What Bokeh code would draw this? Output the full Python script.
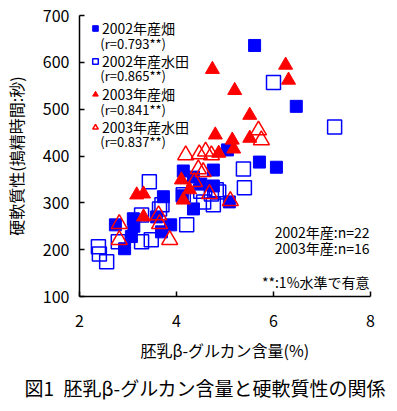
from bokeh.plotting import figure
from bokeh.models import Range1d, FixedTicker, Label, Legend, LegendItem, Title
from bokeh.embed import file_html
from bokeh.resources import INLINE

# 2002 upland (filled squares)
x_2002_upland = [5.61, 6.47, 5.05, 5.71, 6.06, 4.14, 4.76, 4.35, 4.76, 5.09, 4.35,
                 4.12, 3.73, 2.74, 3.11, 3.07, 2.93, 3.59, 3.69, 3.88, 3.12, 4.50]
y_2002_upland = [636, 506, 413, 387, 376, 368, 370, 355, 336, 302, 287,
                 315, 313, 253, 266, 228, 202, 270, 238, 253, 250, 340]
# 2002 paddy (open squares)
x_2002_paddy = [6.00, 7.26, 5.38, 5.40, 4.21, 3.44, 4.72, 4.82, 4.56, 3.65, 3.28,
                2.39, 2.41, 2.56, 2.80, 3.28, 3.48, 4.14, 4.76, 4.87, 3.70, 4.50]
y_2002_paddy = [557, 462, 372, 332, 253, 345, 319, 328, 302, 287, 274,
                206, 191, 174, 217, 217, 221, 317, 296, 323, 296, 325]
# 2003 upland (filled triangles)
x_2003_upland = [4.74, 6.25, 6.31, 5.20, 5.51, 4.80, 5.51, 5.15, 5.18, 4.87,
                 4.10, 4.27, 4.14, 3.18, 3.32, 3.32]
y_2003_upland = [585, 594, 562, 540, 487, 445, 438, 434, 415, 406,
                 349, 328, 306, 317, 319, 270]
# 2003 paddy (open triangles)
x_2003_paddy = [4.19, 4.47, 4.72, 5.69, 5.75, 4.45, 4.55, 4.37, 4.68, 5.11,
                3.63, 3.65, 2.82, 2.82, 3.86, 4.60]
y_2003_paddy = [402, 404, 402, 455, 434, 372, 366, 345, 319, 304,
                274, 255, 255, 221, 221, 410]

legend_names = ["2002年産畑", "2002年産水田", "2003年産畑", "2003年産水田"]
r_texts = ["(r=0.793**)", "(r=0.865**)", "(r=0.841**)", "(r=0.837**)"]
x_ticks = [2, 4, 6, 8]
y_ticks = [100, 200, 300, 400, 500, 600, 700]

FONT = "Noto Sans CJK JP"
BLUE = "#0000FF"
RED = "#FF0000"

p = figure(frame_width=291, frame_height=281, output_backend="svg",
           toolbar_location=None,
           x_range=Range1d(2, 8), y_range=Range1d(100, 700),
           min_border_left=75, min_border_right=21, min_border_top=15,
           min_border_bottom=5)
p.outline_line_color = None
p.xgrid.visible = False
p.ygrid.visible = False
p.background_fill_color = "white"

for ax in (p.xaxis[0], p.yaxis[0]):
    ax.axis_line_width = 1.5
    ax.axis_line_color = "black"
    ax.major_tick_in = 5
    ax.major_tick_out = 0
    ax.major_tick_line_width = 1.5
    ax.minor_tick_line_color = None
    ax.major_label_text_font = FONT
    ax.major_label_text_font_size = "16px"
    ax.major_label_text_color = "black"
    ax.axis_label_text_font = FONT
    ax.axis_label_text_font_size = "16px"
    ax.axis_label_text_font_style = "normal"
    ax.axis_label_text_color = "black"

p.xaxis[0].ticker = FixedTicker(ticks=x_ticks)
p.yaxis[0].ticker = FixedTicker(ticks=y_ticks)
p.xaxis[0].axis_label = "胚乳β-グルカン含量(%)"
p.yaxis[0].axis_label = "硬軟質性(搗精時間:秒)"
p.xaxis[0].major_label_standoff = 18
p.xaxis[0].axis_label_standoff = 8
p.yaxis[0].major_label_standoff = 10
p.yaxis[0].axis_label_standoff = 12

r1 = p.scatter(x_2002_upland, y_2002_upland, marker="square", size=12,
               fill_color=BLUE, line_color=BLUE)
r2 = p.scatter(x_2002_paddy, y_2002_paddy, marker="square", size=14,
               fill_color=None, line_color=BLUE, line_width=1.5)
r3 = p.scatter(x_2003_upland, y_2003_upland, marker="triangle", size=14,
               fill_color=RED, line_color=RED)
r4 = p.scatter(x_2003_paddy, y_2003_paddy, marker="triangle", size=16,
               fill_color=None, line_color=RED, line_width=1.5)

legend = Legend(items=[LegendItem(label=n, renderers=[r]) for n, r in
                       zip(legend_names, [r1, r2, r3, r4])],
                location=(9, 159), orientation="vertical",
                glyph_width=14, glyph_height=14, label_height=14,
                label_standoff=0, spacing=13, padding=0, margin=0,
                border_line_color=None, background_fill_color=None,
                label_text_font=FONT, label_text_font_size="14px",
                label_text_color="black")
p.add_layout(legend)

r_y = [640, 571, 500, 431]
for t, yy in zip(r_texts, r_y):
    p.add_layout(Label(x=2.43, y=yy, text=t, text_font=FONT,
                       text_font_size="13px", text_baseline="middle",
                       text_align="left", text_color="black"))

p.add_layout(Label(x=7.98, y=238, text="2002年産:n=22", text_font=FONT,
                   text_font_size="14px", text_baseline="middle",
                   text_align="right", text_color="black"))
p.add_layout(Label(x=7.98, y=204, text="2003年産:n=16", text_font=FONT,
                   text_font_size="14px", text_baseline="middle",
                   text_align="right", text_color="black"))
p.add_layout(Label(x=7.98, y=132, text="**:1%水準で有意", text_font=FONT,
                   text_font_size="14px", text_baseline="middle",
                   text_align="right", text_color="black"))

caption = Title(text="図1\u2002胚乳β-グルカン含量と硬軟質性の関係", align="left",
                offset=-55, text_font=FONT, text_font_size="19px",
                text_font_style="normal", text_color="black", standoff=15)
p.add_layout(caption, "below")

open("out.html", "w").write(file_html(p, INLINE))
